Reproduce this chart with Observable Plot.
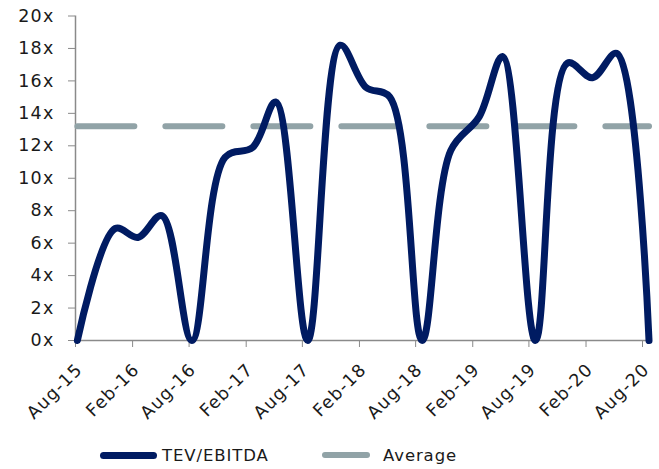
<!DOCTYPE html>
<html><head><meta charset="utf-8">
<script src="https://cdn.jsdelivr.net/npm/d3@7"></script>
<script src="https://cdn.jsdelivr.net/npm/@observablehq/plot@0.6"></script>
<style>
html,body{margin:0;padding:0;background:#fff;}
body{width:659px;height:469px;position:relative;overflow:hidden;font-family:"DejaVu Sans",sans-serif;color:#1a1a1a;}
#legend{position:absolute;left:0;top:441px;width:659px;height:28px;font-size:16.5px;letter-spacing:0.9px;}
.item{position:absolute;top:0;height:28px;display:flex;align-items:center;}
.sw{display:inline-block;height:7px;border-radius:4px;margin-right:5px;}
svg text{letter-spacing:1.2px;}
</style></head><body>
<div id="chart"></div>
<div id="legend">
  <div class="item" style="left:100px"><span class="sw" style="width:57px;background:#001b62"></span>TEV/EBITDA</div>
  <div class="item" style="left:322px"><span class="sw" style="width:48px;height:6px;background:#91a3a7;margin-right:13px"></span>Average</div>
</div>
<script>
const dates = ["2015-08-07","2015-12-07","2016-02-18","2016-05-05","2016-08-10","2016-11-25","2017-02-22","2017-05-07","2017-08-18","2017-12-01","2018-02-22","2018-05-10","2018-08-22","2018-11-22","2019-02-22","2019-05-08","2019-08-22","2019-12-03","2020-02-22","2020-05-10","2020-08-22"];
const tevEbitda = [0,6.9,6.35,7.7,0,11.3,11.9,14.7,0,18.2,15.6,15.0,0,11.7,13.8,17.5,0,17.1,16.2,17.7,0];
const averageValue = 13.2;
const tickDates = ["2015-08-01","2016-02-01","2016-08-01","2017-02-01","2017-08-01","2018-02-01","2018-08-01","2019-02-01","2019-08-01","2020-02-01","2020-08-01"];
const tickLabels = ["Aug-15","Feb-16","Aug-16","Feb-17","Aug-17","Feb-18","Aug-18","Feb-19","Aug-19","Feb-20","Aug-20"];
const yTicks = [0,2,4,6,8,10,12,14,16,18,20];

const parse = d3.utcParse("%Y-%m-%d");
const series = dates.map((d, i) => ({date: parse(d), value: tevEbitda[i]}));
const avg = [{date: parse(dates[0]), value: averageValue}, {date: parse(dates[dates.length - 1]), value: averageValue}];
const tickD = tickDates.map(parse);
const labelOf = new Map(tickD.map((d, i) => [+d, tickLabels[i]]));

const chart = Plot.plot({
  width: 659,
  height: 432,
  marginLeft: 75,
  marginRight: 17,
  marginTop: 15.5,
  marginBottom: 92,
  style: {fontFamily: "DejaVu Sans, sans-serif", fontSize: "17.5px", color: "#1a1a1a", background: "#fff"},
  x: {type: "utc", domain: [tickD[0], tickD[tickD.length - 1]]},
  y: {domain: [0, 20]},
  marks: [
    Plot.axisY({ticks: yTicks, tickFormat: d => d + "x", tickSize: 7, tickPadding: 14, stroke: "#8a8a8a", fill: "#1a1a1a", label: null}),
    Plot.axisX({ticks: tickD, tickFormat: () => "", tickSize: 7, stroke: "#8a8a8a", label: null}),
    Plot.axisX({ticks: tickD, tickFormat: d => labelOf.get(+d), tickSize: 0, tickRotate: -45, tickPadding: 18, dx: 4, dy: 8, fill: "#1a1a1a", label: null}),
    Plot.ruleX([tickD[0]], {y1: 0, y2: 20, stroke: "#8a8a8a", strokeWidth: 1.5}),
    Plot.ruleY([0], {x1: tickD[0], x2: parse("2020-08-25"), stroke: "#8a8a8a", strokeWidth: 1.5}),
    Plot.line(avg, {x: "date", y: "value", stroke: "#91a3a7", strokeWidth: 6, strokeLinecap: "round", strokeDasharray: "57 31"}),
    Plot.line(series, {x: "date", y: "value", stroke: "#001b62", strokeWidth: 7, curve: "catmull-rom", strokeLinejoin: "round"})
  ]
});
document.getElementById("chart").appendChild(chart);
</script>
</body></html>
